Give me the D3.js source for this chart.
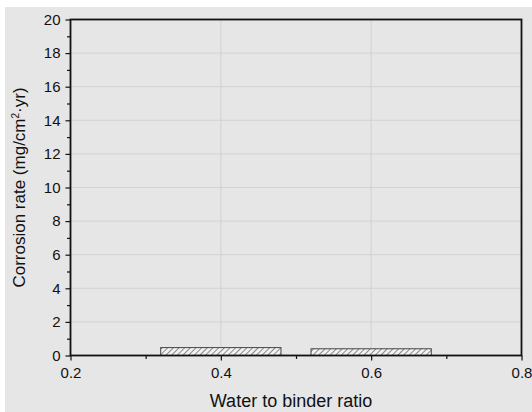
<!DOCTYPE html>
<html>
<head>
<meta charset="utf-8">
<script src="https://cdn.jsdelivr.net/npm/d3@7"></script>
<style>
  body { margin: 0; background: #fff; }
  svg text { font-family: "Liberation Sans", Arial, sans-serif; }
</style>
</head>
<body>
<svg id="chart" width="532" height="412"></svg>
<script>
// data
let ratios = [0.4, 0.6];
let rates = [0.47, 0.4];
let xTicks = [0.2, 0.4, 0.6, 0.8];
let yTicks = [0, 2, 4, 6, 8, 10, 12, 14, 16, 18, 20];
let barWidth = 0.16;

let svg = d3.select('#chart');
let plotLeft = 70.5, plotRight = 521.5, plotTop = 19.5, plotBottom = 355.5;

svg.append('rect')
    .attr('x', 5).attr('y', 7)
    .attr('width', 527).attr('height', 405)
    .attr('fill', '#e6e6e6');

let x = d3.scaleLinear().domain([0.2, 0.8]).range([plotLeft, plotRight]);
let y = d3.scaleLinear().domain([0, 20]).range([plotBottom, plotTop]);

// hatch
let pat = svg.append('defs').append('pattern')
    .attr('id', 'hatch')
    .attr('patternUnits', 'userSpaceOnUse')
    .attr('width', 4).attr('height', 4)
    .attr('patternTransform', 'rotate(45)');
pat.append('rect').attr('width', 4).attr('height', 4).attr('fill', '#f2f2f2');
pat.append('line')
    .attr('x1', 0).attr('y1', 0).attr('x2', 0).attr('y2', 4)
    .attr('stroke', '#333').attr('stroke-width', 1.1);

// grid
svg.append('g').selectAll('line').data(xTicks.slice(1, -1)).join('line')
    .attr('x1', d => x(d)).attr('x2', d => x(d))
    .attr('y1', plotTop).attr('y2', plotBottom)
    .attr('stroke', '#d2d2d2').attr('stroke-width', 1);
svg.append('g').selectAll('line').data(yTicks.slice(1, -1)).join('line')
    .attr('x1', plotLeft).attr('x2', plotRight)
    .attr('y1', d => y(d)).attr('y2', d => y(d))
    .attr('stroke', '#d2d2d2').attr('stroke-width', 1);

// bars
svg.append('g').selectAll('rect').data(ratios).join('rect')
    .attr('x', d => x(d - barWidth / 2))
    .attr('width', d => x(d + barWidth / 2) - x(d - barWidth / 2))
    .attr('y', (d, i) => y(rates[i]))
    .attr('height', (d, i) => y(0) - y(rates[i]))
    .attr('fill', 'url(#hatch)')
    .attr('stroke', '#444').attr('stroke-width', 1);

// axes
let xAxis = d3.axisBottom(x).tickValues(xTicks).tickFormat(d3.format('.1f'))
    .tickSize(5).tickPadding(6.5);
let xMinor = d3.axisBottom(x).tickValues([0.3, 0.5, 0.7]).tickFormat('').tickSize(3.5);
let yAxis = d3.axisLeft(y).tickValues(yTicks).tickSize(5).tickPadding(5);
let yMinor = d3.axisLeft(y).tickValues(d3.range(1, 20, 2)).tickFormat('').tickSize(3.5);

function style (g) {
    g.attr('font-size', 15).attr('font-family', '"Liberation Sans", Arial, sans-serif');
    g.select('.domain').remove();
    g.selectAll('.tick line').attr('stroke', '#111').attr('stroke-width', 1.2);
    g.selectAll('.tick text').attr('fill', '#111');
}

svg.append('g').attr('transform', 'translate(0,' + plotBottom + ')').call(xAxis).call(style);
svg.append('g').attr('transform', 'translate(0,' + plotBottom + ')').call(xMinor).call(style);
svg.append('g').attr('transform', 'translate(' + plotLeft + ',0)').call(yAxis).call(style);
svg.append('g').attr('transform', 'translate(' + plotLeft + ',0)').call(yMinor).call(style);

// frame
svg.append('rect')
    .attr('x', plotLeft).attr('y', plotTop)
    .attr('width', plotRight - plotLeft).attr('height', plotBottom - plotTop)
    .attr('fill', 'none').attr('stroke', '#111').attr('stroke-width', 1.8);

// labels
svg.append('text')
    .attr('x', 291).attr('y', 407)
    .attr('text-anchor', 'middle')
    .attr('font-size', 18).attr('fill', '#111')
    .text('Water to binder ratio');

let yl = svg.append('text')
    .attr('transform', 'translate(25,' + ((plotTop + plotBottom) / 2) + ') rotate(-90)')
    .attr('text-anchor', 'middle')
    .attr('font-size', 17).attr('fill', '#111');
yl.append('tspan').text('Corrosion rate (mg/cm');
yl.append('tspan').attr('dy', -6).attr('font-size', 10).text('2');
yl.append('tspan').attr('dy', 6).text('·yr)');
</script>
</body>
</html>
